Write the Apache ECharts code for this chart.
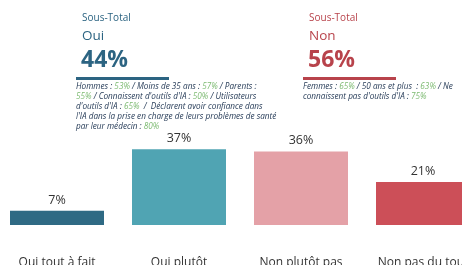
<!DOCTYPE html>
<html>
<head>
<meta charset="utf-8">
<script src="https://cdn.jsdelivr.net/npm/echarts@6/dist/echarts.min.js"></script>
<style>
  html, body { margin: 0; padding: 0; background: #fff; }
  #chart { width: 462px; height: 265px; }
</style>
</head>
<body>
<div id="chart"></div>
<script>
// chart data
const categories = ['Oui tout à fait', 'Oui plutôt', 'Non plutôt pas', 'Non pas du tout']
const values = [7, 37, 36, 21]
const barColors = ['#2f6a84', '#50a4b3', '#e4a1a7', '#cc4f58']

const ouiTotal = '44%'
const nonTotal = '56%'
const ouiNotes = [
  '{n|Hommes : }{g|53%}{n| / Moins de 35 ans : }{g|57%}{n| / Parents :}',
  '{g|55%}{n| / Connaissent d\'outils d\'IA : }{g|50%}{n| / Utilisateurs}',
  '{n|d\'outils d\'IA : }{g|65%}{n|  /  Déclarent avoir confiance dans}',
  '{n|l\'IA dans la prise en charge de leurs problèmes de santé}',
  '{n|par leur médecin : }{g|80%}'
]
const nonNotes = [
  '{n|Femmes : }{g|65%}{n| / 50 ans et plus  : }{g|63%}{n| / Ne}',
  '{n|connaissent pas d\'outils d\'IA : }{g|75%}'
]

const font = '"Open Sans", "Noto Sans", sans-serif'
const blue = '#2c6482'
const red = '#b8434b'
const noteRich = {
  n: { fill: '#1f3552', fontStyle: 'italic', fontSize: 8.2, fontFamily: font, lineHeight: 9.8 },
  g: { fill: '#7dbb72', fontStyle: 'italic', fontSize: 8.2, fontFamily: font, lineHeight: 9.8 }
}

function header (x, color, title, total, notes) {
  return [
    { type: 'text', left: x, top: 13, style: { text: 'Sous-Total', fill: color, font: '10px ' + font } },
    { type: 'text', left: x, top: 29, style: { text: title, fill: color, font: '13.5px ' + font } },
    { type: 'text', left: x - 1, top: 49, style: { text: total, fill: color, font: 'bold 23px ' + font } },
    { type: 'rect', shape: { x: x - 6, y: 77, width: 93, height: 3 }, style: { fill: color } },
    { type: 'text', left: x - 6, top: 83, style: { text: notes.join('\n'), rich: noteRich } }
  ]
}

const chart = echarts.init(document.getElementById('chart'))
chart.setOption({
  animation: false,
  grid: { left: -4, width: 488, top: 20.5, bottom: 40, outerBoundsMode: 'none', containLabel: false },
  xAxis: {
    type: 'category',
    data: categories,
    axisLine: { show: false },
    axisTick: { show: false },
    axisLabel: { margin: 32, color: '#333', fontSize: 12, fontFamily: font, interval: 0 }
  },
  yAxis: { type: 'value', min: 0, max: 100, show: false },
  series: [{
    type: 'bar',
    barWidth: 94,
    data: values.map((v, i) => ({ value: v, itemStyle: { color: barColors[i] } })),
    label: {
      show: true,
      position: 'top',
      distance: 4,
      formatter: '{c}%',
      color: '#333',
      fontSize: 12.5,
      fontFamily: font
    }
  }],
  graphic: [].concat(header(82, blue, 'Oui', ouiTotal, ouiNotes), header(309, red, 'Non', nonTotal, nonNotes))
})
</script>
</body>
</html>
